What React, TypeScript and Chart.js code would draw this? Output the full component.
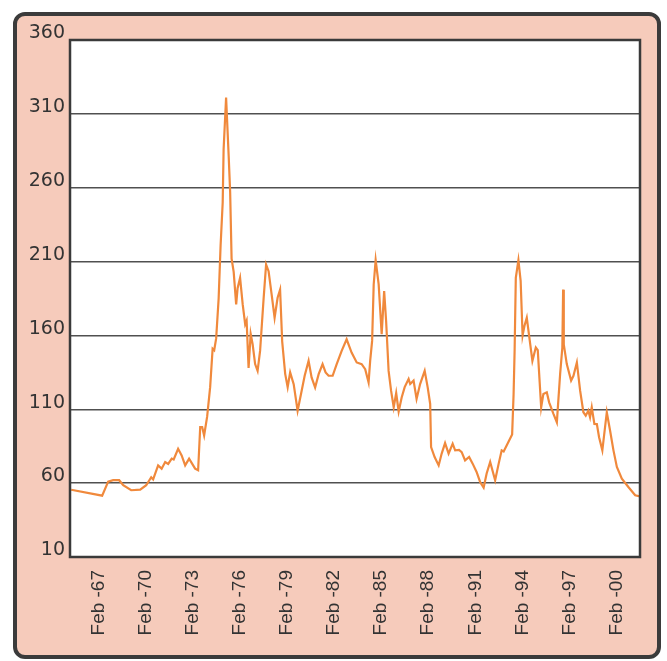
import React, { useEffect, useRef } from "react";
import { Chart, registerables } from "chart.js";

Chart.register(...registerables);

// month index since Jan 1965
const months = [
  3.9, 27.6, 32.2, 36.0, 40.6, 43.7, 49.8, 56.7, 61.3, 65.1, 66.6, 70.4, 73.1, 75.8, 78.1, 80.8, 82.3, 85.7, 88.4, 91.1,
  94.1, 98.7, 101.0, 102.6, 104.1, 105.6, 107.9, 110.2, 112.1, 113.3, 114.8, 116.7, 118.2, 119.8, 120.5, 122.4, 124.4, 125.5, 126.6, 128.2,
  130.1, 131.2, 133.1, 135.1, 137.0, 138.1, 139.6, 141.2, 142.7, 144.6, 146.5, 148.4, 151.1, 153.0, 154.9, 157.2, 159.5, 161.8, 163.7, 165.3,
  167.6, 169.5, 171.4, 174.1, 177.1, 180.2, 182.5, 185.5, 187.8, 190.5, 193.2, 196.2, 198.5, 200.8, 203.9, 207.0, 210.8, 214.6, 218.4, 222.3,
  226.1, 228.8, 231.4, 232.6, 234.1, 235.3, 236.8, 239.1, 241.4, 243.3, 244.8, 246.7, 248.6, 250.6, 252.5, 254.4, 256.7, 259.0, 262.0, 263.2,
  265.8, 268.1, 270.8, 274.3, 276.6, 278.5, 279.2, 281.9, 285.0, 287.3, 289.9, 292.6, 295.7, 297.6, 300.6, 302.6, 305.2, 308.3, 311.0, 314.0,
  316.7, 319.4, 321.7, 324.4, 328.2, 330.9, 333.2, 334.7, 337.0, 338.9, 341.2, 342.3, 343.1, 344.0, 346.0, 347.7, 349.2, 350.6, 352.4, 354.2,
  356.7, 359.3, 360.8, 363.4, 365.1, 367.7, 369.5, 372.8, 375.4, 377.9, 379.6, 380.2, 380.7, 383.0, 386.3, 388.1, 390.7, 393.2, 395.7, 397.5,
  399.5, 400.8, 402.1, 404.1, 406.0, 407.7, 410.2, 413.6, 416.1, 418.7, 421.3, 425.1, 430.1, 435.3, 439.1,
];

const values = [
  55.5, 51.5, 61, 62, 62, 58.6, 55.2, 55.6, 58.6, 64, 62.5, 72, 69.8, 74.3, 73, 76.6, 76, 83.3, 78.8, 72,
  76.6, 69.8, 68.7, 98, 98, 92.3, 105, 125, 151, 150, 158, 185, 221, 250, 286, 321, 281, 257, 212, 203,
  181, 192, 199, 181, 167.5, 170, 138, 161, 154, 140.6, 136, 149.5, 185, 208, 203.5, 188, 172, 185.5, 191, 156,
  134, 125, 135, 127, 109, 122.6, 132.7, 142.8, 131.6, 124.8, 133.8, 140.6, 135, 132.7, 132.7, 140.6, 149.5, 157.4, 148.4, 141.7,
  140.6, 137.2, 128.2, 142.8, 156.3, 194.5, 211, 194.5, 160.8, 190, 169.8, 136, 122.6, 111.3, 121, 108.5, 118, 125, 130.5, 127.1,
  129.4, 117, 127.1, 136, 124.8, 113.6, 84.4, 77.7, 72, 80, 87.1, 80, 86.7, 82.2, 82.5, 81, 75.4, 77.7, 73.2, 67.6,
  60.8, 57, 66.5, 74.3, 61.9, 73.2, 82.2, 81.5, 85.5, 88.9, 93, 120, 150, 199, 211, 197, 160, 166.4, 172, 159.7,
  142.8, 151.8, 150, 111.3, 120.4, 121.5, 114.7, 106.9, 101.2, 133.8, 151.8, 191, 154, 140.6, 129.4, 132.7, 141.7, 122.6, 108, 105.7,
  109.1, 104.6, 111.3, 100.1, 100, 91.1, 82.2, 108, 95.6, 82.2, 71, 63.1, 57.4, 51.8, 51,
];

const tickMonths = [25, 61, 97, 133, 169, 205, 241, 277, 313, 349, 385, 421];
const tickLabels = [
  "Feb -67", "Feb -70", "Feb -73", "Feb -76", "Feb -79", "Feb -82",
  "Feb -85", "Feb -88", "Feb -91", "Feb -94", "Feb -97", "Feb -00",
];
const yMin = 10;
const yMax = 360;
const yStep = 50;

const plotBg = {
  id: "plotBg",
  beforeDraw(chart: any) {
    const { ctx, chartArea: a } = chart;
    ctx.save();
    ctx.fillStyle = "#ffffff";
    ctx.fillRect(a.left, a.top, a.right - a.left, a.bottom - a.top);
    ctx.restore();
  },
  afterDraw(chart: any) {
    const { ctx, chartArea: a } = chart;
    ctx.save();
    ctx.strokeStyle = "#3a3a3a";
    ctx.lineWidth = 2.5;
    ctx.strokeRect(a.left, a.top, a.right - a.left, a.bottom - a.top);
    ctx.restore();
  },
};

export default function App() {
  const ref = useRef<HTMLCanvasElement | null>(null);
  useEffect(() => {
    if (!ref.current) return;
    const chart = new Chart(ref.current, {
      type: "line",
      data: {
        datasets: [
          {
            data: months.map((m, i) => ({ x: m, y: values[i] })),
            borderColor: "#f0893c",
            borderWidth: 2.2,
            pointRadius: 0,
            tension: 0,
            fill: false,
          },
        ],
      },
      options: {
        animation: false,
        responsive: false,
        devicePixelRatio: 1,
        layout: { padding: { top: 24, right: 17, left: 0, bottom: 0 } },
        plugins: { legend: { display: false }, tooltip: { enabled: false } },
        scales: {
          x: {
            type: "linear",
            min: 3,
            max: 439,
            afterBuildTicks: (s: any) => {
              s.ticks = tickMonths.map((v) => ({ value: v }));
            },
            afterFit: (s: any) => {
              s.height = 98;
            },
            grid: { display: false, drawTicks: false },
            border: { display: false },
            ticks: {
              autoSkip: false,
              maxRotation: 90,
              minRotation: 90,
              padding: 13,
              color: "#333333",
              font: { family: "'Liberation Sans', Arial, sans-serif", size: 19 },
              callback: (v: any) => {
                const i = tickMonths.indexOf(Number(v));
                return i >= 0 ? tickLabels[i] : "";
              },
            },
          },
          y: {
            min: yMin,
            max: yMax,
            afterFit: (s: any) => {
              s.width = 53;
            },
            grid: { color: "#505050", lineWidth: 1.4, drawTicks: false },
            border: { display: false },
            ticks: {
              stepSize: yStep,
              padding: 5,
              color: "#333333",
              font: { family: "'DejaVu Sans', sans-serif", size: 19, lineHeight: 0.7 },
              callback: (v: any) => [String(v), ""],
            },
          },
        },
      },
      plugins: [plotBg],
    });
    return () => chart.destroy();
  }, []);

  return (
    <div style={{ position: "absolute", left: 0, top: 0, width: 667, height: 661, background: "#ffffff" }}>
      <div
        style={{
          position: "absolute",
          left: 13,
          top: 12,
          width: 648,
          height: 647,
          boxSizing: "border-box",
          border: "4px solid #3b3b3b",
          borderRadius: 12,
          background: "#f6cbbb",
        }}
      />
      <canvas ref={ref} width={640} height={639} style={{ position: "absolute", left: 17, top: 16, width: 640, height: 639 }} />
    </div>
  );
}
